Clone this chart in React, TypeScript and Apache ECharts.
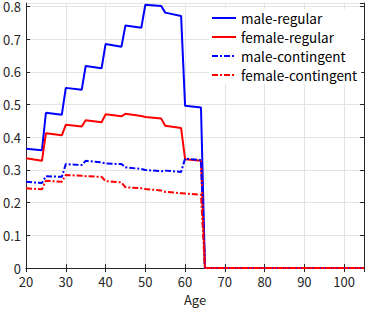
import React, { useEffect, useRef } from "react";
import * as echarts from "echarts";

const ages = [20, 24, 25, 29, 30, 34, 35, 39, 40, 44, 45, 49, 50, 54, 55, 59, 60, 64, 65, 105];
const maleRegular = [0.365, 0.36, 0.475, 0.469, 0.551, 0.545, 0.618, 0.611, 0.685, 0.677, 0.742, 0.735, 0.805, 0.801, 0.781, 0.771, 0.496, 0.491, 0, 0];
const femaleRegular = [0.336, 0.328, 0.412, 0.406, 0.438, 0.433, 0.452, 0.446, 0.47, 0.464, 0.472, 0.465, 0.462, 0.457, 0.435, 0.428, 0.333, 0.328, 0, 0];
const maleContingent = [0.264, 0.26, 0.281, 0.279, 0.318, 0.315, 0.328, 0.323, 0.32, 0.318, 0.308, 0.303, 0.3, 0.296, 0.298, 0.294, 0.335, 0.33, 0, 0];
const femaleContingent = [0.244, 0.241, 0.267, 0.264, 0.285, 0.282, 0.281, 0.279, 0.266, 0.262, 0.247, 0.244, 0.242, 0.237, 0.233, 0.229, 0.228, 0.224, 0, 0];
const seriesNames = ["male-regular", "female-regular", "male-contingent", "female-contingent"];

const FONT = "'Noto Sans CJK JP', 'Noto Sans', sans-serif";
const AXIS = "#262626";

export default function App() {
  const ref = useRef<HTMLDivElement>(null);
  useEffect(() => {
    if (!ref.current) return;
    const chart = echarts.init(ref.current, undefined, { renderer: "svg" });
    const zip = (v: number[]) => ages.map((a, i) => [a, v[i]]);
    const mk = (name: string, data: number[], color: string, dashed: boolean) => ({
      name,
      type: "line",
      data: zip(data),
      symbol: "none",
      showSymbol: false,
      xAxisIndex: 0,
      yAxisIndex: 0,
      itemStyle: { color },
      lineStyle: { color, width: 2, type: dashed ? [6, 2, 2, 2] : "solid" },
    });
    const axisCommonX = {
      type: "value",
      min: 20,
      max: 105,
      interval: 10,
      axisLine: { show: true, lineStyle: { color: AXIS, width: 1 } },
      axisTick: { show: true, inside: true, length: 4, lineStyle: { color: AXIS } },
    };
    const axisCommonY = {
      type: "value",
      min: 0,
      max: 0.81,
      interval: 0.1,
      axisLine: { show: true, lineStyle: { color: AXIS, width: 1 } },
      axisTick: { show: true, inside: true, length: 4, lineStyle: { color: AXIS } },
    };
    chart.setOption({
      animation: false,
      backgroundColor: "#ffffff",
      grid: { left: 20, right: 1, top: 3, bottom: 37, containLabel: false },
      legend: {
        orient: "vertical",
        left: 209,
        top: 9,
        itemWidth: 24,
        itemHeight: 12,
        itemGap: 5,
        backgroundColor: "#ffffff",
        padding: [2, 4, 2, 2],
        itemStyle: { opacity: 0 },
        textStyle: { fontFamily: FONT, fontSize: 13.5, color: "#000", lineHeight: 14 },
        data: seriesNames,
      },
      xAxis: [
        {
          ...axisCommonX,
          position: "bottom",
          name: "Age",
          nameLocation: "middle",
          nameGap: 23,
          nameTextStyle: { fontFamily: FONT, fontSize: 13, color: AXIS },
          axisLabel: { show: true, margin: 7, fontFamily: FONT, fontSize: 13, color: AXIS, lineHeight: 13 },
          splitLine: { show: true, lineStyle: { color: "#e3e3e3", width: 1 } },
        },
        {
          ...axisCommonX,
          position: "top",
          axisLabel: { show: false },
          splitLine: { show: false },
        },
      ],
      yAxis: [
        {
          ...axisCommonY,
          position: "left",
          axisLabel: { show: true, margin: 5, fontFamily: FONT, fontSize: 13, color: AXIS, lineHeight: 11, showMaxLabel: false },
          splitLine: { show: true, lineStyle: { color: "#e3e3e3", width: 1 } },
        },
        {
          ...axisCommonY,
          position: "right",
          axisLabel: { show: false },
          splitLine: { show: false },
        },
      ],
      series: [
        mk(seriesNames[0], maleRegular, "#0000ff", false),
        mk(seriesNames[1], femaleRegular, "#ff0000", false),
        mk(seriesNames[2], maleContingent, "#0000ff", true),
        mk(seriesNames[3], femaleContingent, "#ff0000", true),
      ],
    });
    return () => chart.dispose();
  }, []);
  return (
    <div
      ref={ref}
      style={{ position: "fixed", left: 0, top: 0, width: 365, height: 311 }}
    />
  );
}
